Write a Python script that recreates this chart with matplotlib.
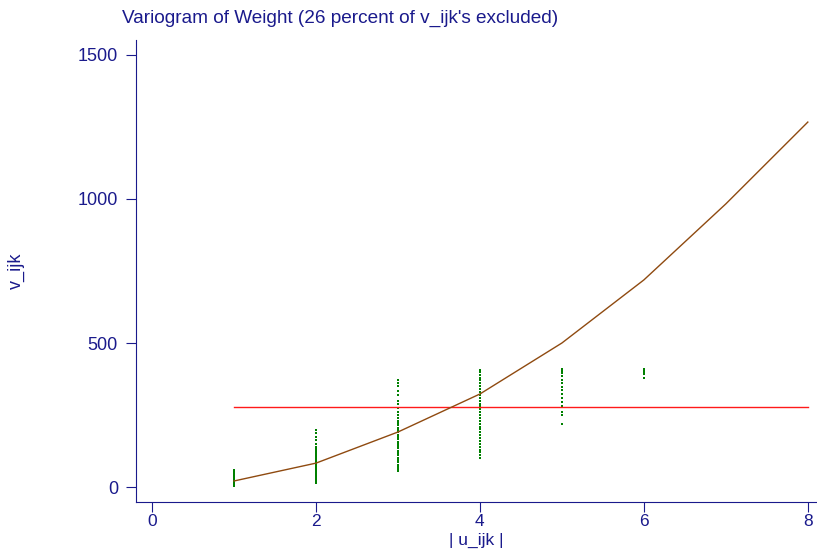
import matplotlib
matplotlib.use("Agg")
import matplotlib.pyplot as plt
import numpy as np

# lags and fitted variogram
lags = [1, 2, 3, 4, 5, 6, 7, 8]
fitted = [21, 83, 191, 323, 500, 719, 983, 1267]
process_var = 278  # horizontal reference line

# observed half squared differences, by lag
v_lag1 = [3, 6, 8, 10, 12, 14, 15, 17, 19, 20, 22, 24, 25, 27, 29, 30, 32, 34, 36, 38,
          40, 42, 45, 48, 52, 56, 60]
v_lag2 = [14, 18, 22, 26, 30, 34, 38, 42, 46, 50, 54, 58, 62, 66, 70, 74, 78, 82, 86, 90,
          95, 100, 105, 110, 115, 120, 126, 132, 140, 150, 162, 175, 188, 198]
v_lag3 = [55, 62, 70, 78, 86, 94, 102, 110, 118, 126, 134, 142, 150, 158, 166, 174, 182,
          190, 198, 206, 214, 222, 230, 240, 250, 262, 275, 290, 300, 318, 335, 350, 362, 370]
v_lag4 = [100, 110, 120, 130, 140, 150, 160, 170, 180, 190, 200, 210, 220, 230, 240, 250,
          260, 270, 280, 290, 300, 310, 320, 330, 340, 350, 360, 370, 380, 390, 400, 408]
v_lag5 = [220, 250, 262, 280, 296, 310, 322, 336, 348, 360, 372, 384, 396, 404, 410]
v_lag6 = [380, 392, 400, 406, 410]

xticks = [0, 2, 4, 6, 8]
yticks = [0, 500, 1000, 1500]

navy = "#1a1a8c"
plt.rcParams["font.family"] = ["Liberation Sans", "DejaVu Sans"]

fig = plt.figure(figsize=(8.17, 5.53), dpi=100)
ax = fig.add_axes([0.1665, 0.0922, 0.8323, 0.8355])

for lag, vals in zip(lags, [v_lag1, v_lag2, v_lag3, v_lag4, v_lag5, v_lag6]):
    ax.scatter([lag] * len(vals), vals, s=1.2, marker="s", color="#008000", linewidths=0)

ax.plot([lags[0], lags[-1]], [process_var, process_var], color="#ff1a1a", lw=1)
ax.plot(lags, fitted, color="#8f4a10", lw=1)

ax.set_xlim(-0.195, 8.1)
ax.set_ylim(-52, 1552)
ax.set_xticks(xticks)
ax.set_yticks(yticks)

for s in ["top", "right"]:
    ax.spines[s].set_visible(False)
for s in ["left", "bottom"]:
    ax.spines[s].set_color(navy)
ax.tick_params(colors=navy, labelsize=13, length=7, direction="out")
ax.tick_params(axis="y", pad=6)
ax.tick_params(axis="x", pad=1.5, labelsize=12.5)

ax.set_xlabel("| u_ijk |", color=navy, fontsize=12.5)
ax.xaxis.set_label_coords(0.5, -0.067)
ax.set_ylabel("v_ijk", color=navy, fontsize=13)
ax.yaxis.set_label_coords(-0.163, 0.5)
fig.text(122 / 817, 1 - 18 / 553, "Variogram of Weight (26 percent of v_ijk's excluded)",
         color=navy, fontsize=13.7, va="center", ha="left")

fig.savefig("out.png", dpi=100)
